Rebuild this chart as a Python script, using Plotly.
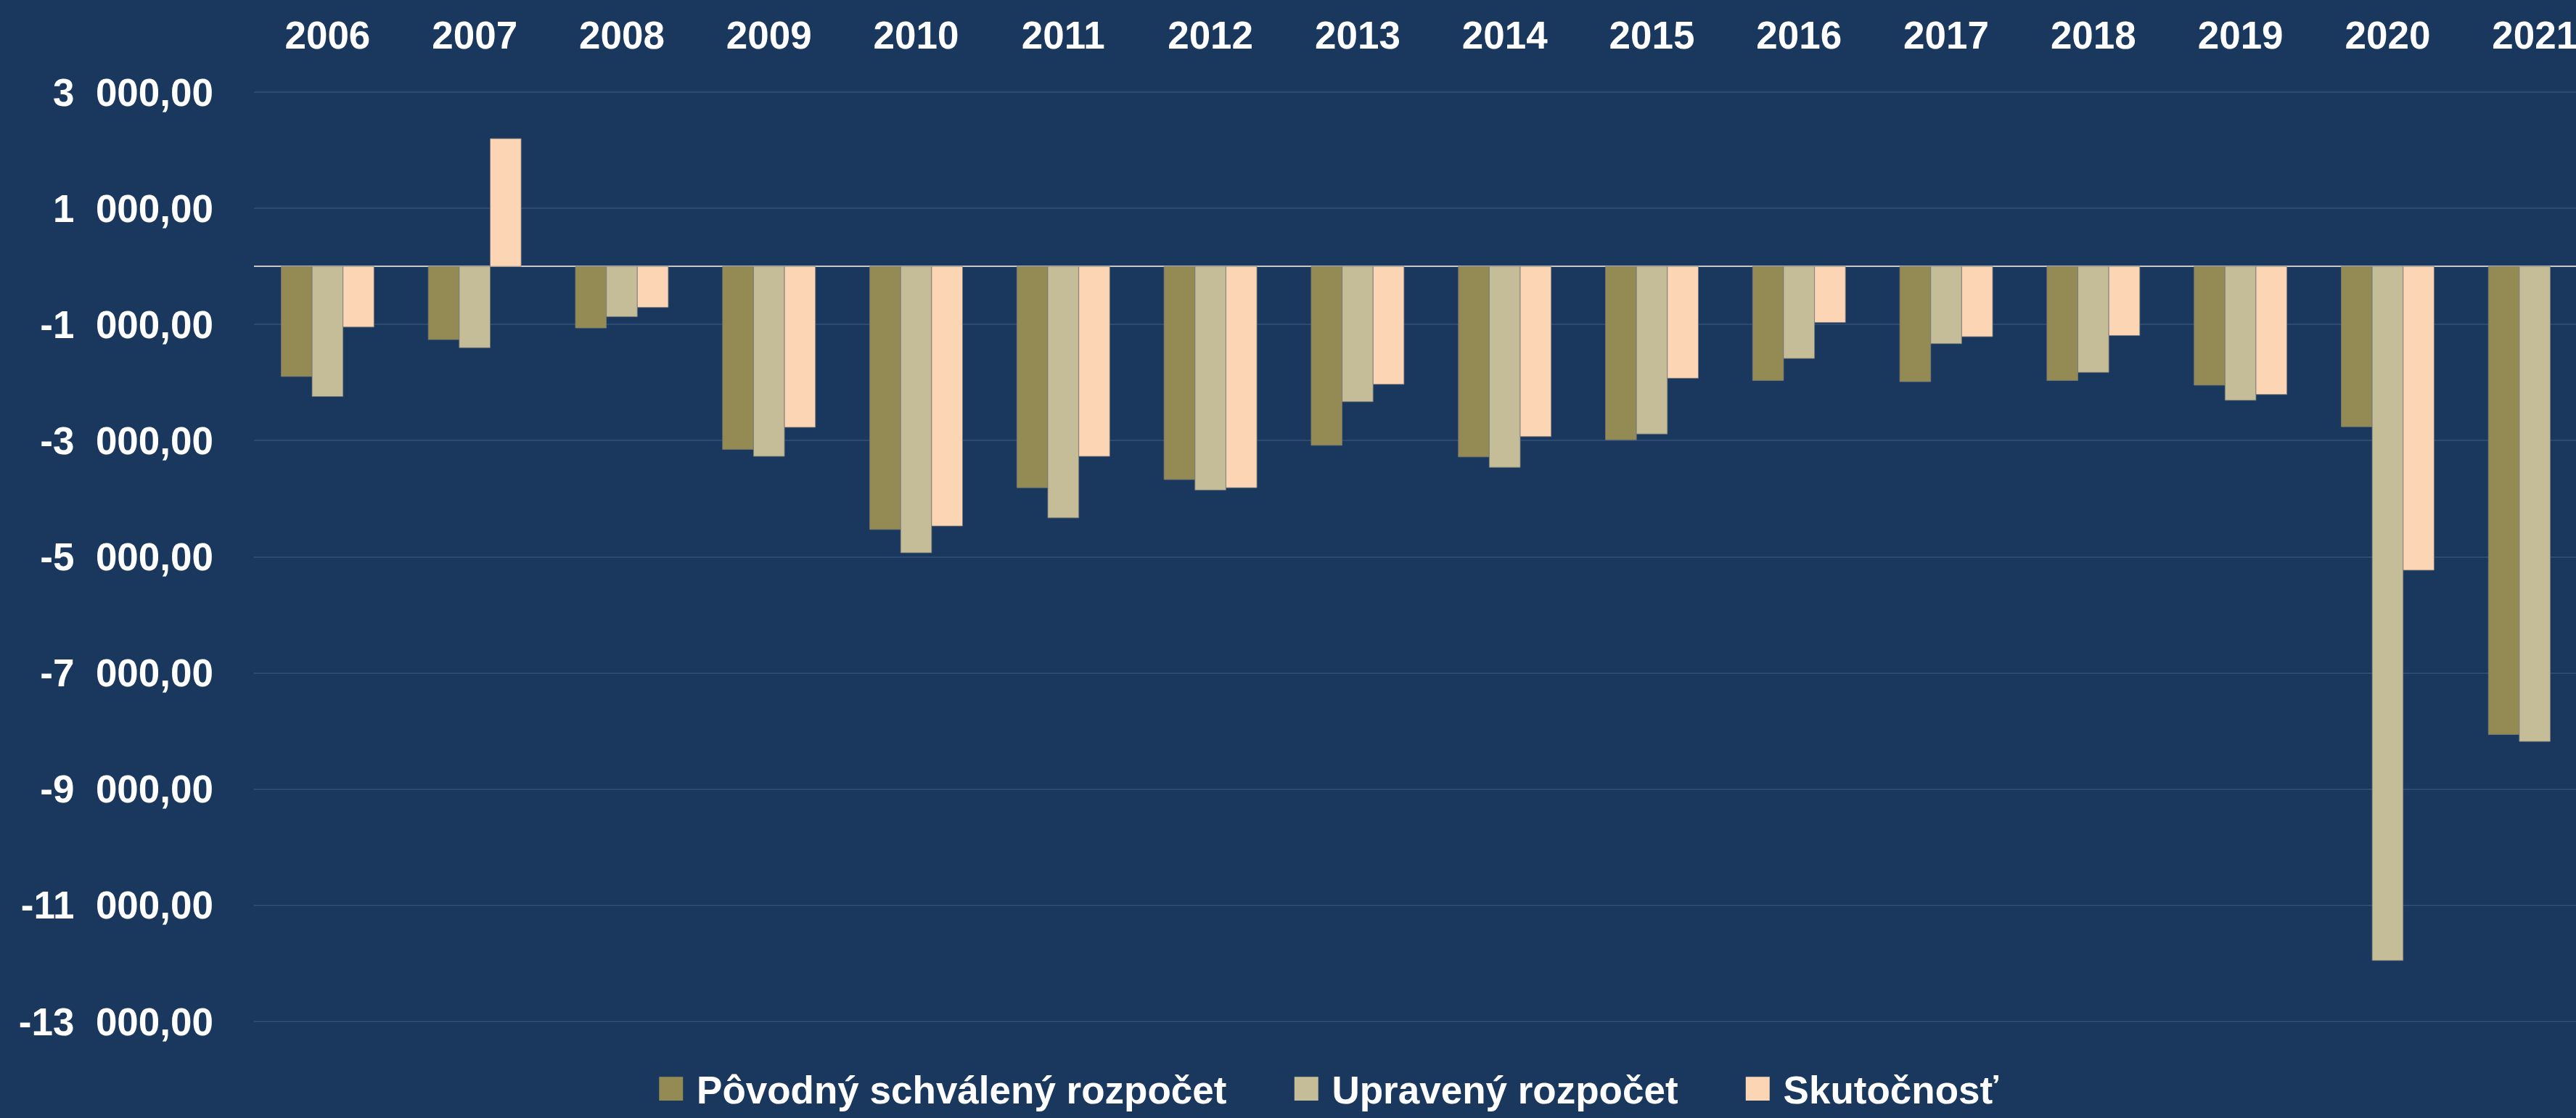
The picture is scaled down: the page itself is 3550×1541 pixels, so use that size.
import plotly.graph_objects as go

years = [2006, 2007, 2008, 2009, 2010, 2011, 2012, 2013, 2014, 2015, 2016, 2017, 2018, 2019, 2020, 2021]
year_labels = [str(y) for y in years]

povodny = [-1895, -1260, -1060, -3150, -4530, -3810, -3670, -3080, -3280, -2985, -1965, -1985, -1965, -2045, -2760, -8060]
upraveny = [-2240, -1400, -867, -3270, -4930, -4330, -3850, -2330, -3460, -2885, -1585, -1330, -1825, -2305, -11950, -8180]
skutocnost = [-1045, 2200, -706, -2770, -4470, -3270, -3810, -2030, -2930, -1925, -965, -1210, -1190, -2205, -5230, None]

series_names = ["Pôvodný schválený rozpočet", "Upravený rozpočet", "Skutočnosť"]
series_colors = ["#948A54", "#C4BD97", "#FCD5B5"]

y_ticks = [3000, 1000, -1000, -3000, -5000, -7000, -9000, -11000, -13000]


def fmt(v):
    sign = "-" if v < 0 else ""
    a = abs(v)
    return f"{sign}{a // 1000}\u00a0\u00a0{a % 1000:03d},00"


y_ticktext = [fmt(v) for v in y_ticks]

FONT = "Liberation Sans, Arial, sans-serif"
FS = 53
BG = "#1A375E"
NB = "\u00a0"

fig = go.Figure()
for i, (name, vals, col) in enumerate(zip(series_names, [povodny, upraveny, skutocnost], series_colors)):
    fig.add_trace(go.Bar(
        x=years, y=vals, name=name, legendgroup=name, showlegend=False,
        marker=dict(color=col, line=dict(color="rgba(120,120,120,0.8)", width=1)),
    ))
    # legend entry: coloured square glyph + label (bar legend symbols cannot be enlarged)
    pad = NB * 3 if i < len(series_names) - 1 else ""
    fig.add_trace(go.Scatter(
        x=[None], y=[None], mode="markers", legendgroup=name, showlegend=True,
        marker=dict(color="rgba(0,0,0,0)", size=1),
        name=f'<span style="color:{col};font-size:68px">■</span>{NB}{name}{pad}',
        hoverinfo="skip",
    ))

fig.update_layout(
    width=3550, height=1541,
    paper_bgcolor=BG, plot_bgcolor=BG,
    margin=dict(l=350, r=0, t=79, b=80),
    barmode="group", bargap=0.369, bargroupgap=0,
    font=dict(family=FONT, size=FS, color="white", weight="bold"),
    showlegend=True,
    legend=dict(
        orientation="h", x=0.1607, xanchor="left", y=-0.0323, yanchor="middle",
        font=dict(family=FONT, size=FS, color="white", weight="bold"),
        bgcolor="rgba(0,0,0,0)",
    ),
)
fig.update_xaxes(
    side="top", range=[2005.5, 2021.28], tickvals=years, ticktext=year_labels,
    showgrid=False, zeroline=False, showline=False, ticks="",
    ticklabeloverflow="allow", automargin=False,
    tickfont=dict(family=FONT, size=FS, color="white", weight="bold"),
)
fig.update_yaxes(
    range=[-13600, 3600], tickvals=y_ticks, ticktext=y_ticktext,
    showgrid=True, gridcolor="#2D4A70", gridwidth=2,
    zeroline=True, zerolinecolor="#C8C8C8", zerolinewidth=2,
    showline=False, ticks="", ticklabelstandoff=55, automargin=False,
    tickfont=dict(family=FONT, size=FS, color="white", weight="bold"),
)

fig.write_html(
    "out.html",
    config={"displayModeBar": False},
    post_script="document.body.style.margin='0px';",
)
